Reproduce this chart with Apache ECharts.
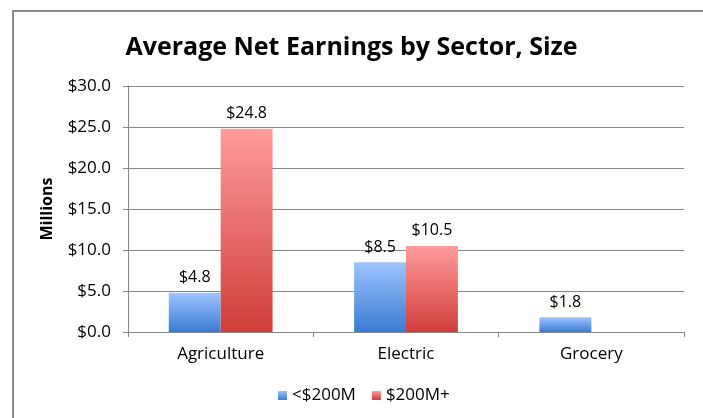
<!DOCTYPE html>
<html>
<head>
<meta charset="utf-8">
<script src="https://cdn.jsdelivr.net/npm/echarts@6/dist/echarts.min.js"></script>
<style>
  html, body { margin: 0; padding: 0; background: #fff; }
  #chart { width: 703px; height: 418px; }
</style>
</head>
<body>
<div id="chart"></div>
<script>
  // 数据
  const categories = ['Agriculture', 'Electric', 'Grocery'];
  const seriesNames = ['<$200M', '$200M+'];
  const smallValues = [4.8, 8.5, 1.8];
  const largeValues = [24.8, 10.5, null];

  const font = '"Open Sans", "Noto Sans", sans-serif';

  const grad = (top, bottom) => new echarts.graphic.LinearGradient(0, 0, 0, 1, [
    { offset: 0, color: top },
    { offset: 1, color: bottom }
  ]);

  const barLabel = {
    show: true, position: 'top', distance: 7,
    fontFamily: font, fontSize: 16, color: '#000',
    formatter: p => '$' + p.value.toFixed(1)
  };

  let option = {
    animation: false,
    backgroundColor: '#fff',
    title: {
      text: 'Average Net Earnings by Sector, Size',
      left: 'center',
      top: 30,
      textStyle: { fontFamily: font, fontSize: 25, fontWeight: 'bold', color: '#000' }
    },
    graphic: [{
      type: 'rect',
      shape: { x: 13, y: 11, width: 760, height: 480 },
      style: { fill: 'none', stroke: '#8c8c8c', lineWidth: 2 },
      z: -1
    }],
    legend: {
      top: 382,
      left: 273,
      itemWidth: 9,
      itemHeight: 9,
      itemGap: 16,
      icon: 'rect',
      textStyle: { fontFamily: font, fontSize: 17, color: '#000' },
      data: seriesNames
    },
    grid: { left: 128, right: 19, top: 86, bottom: 86 },
    xAxis: {
      type: 'category',
      data: categories,
      axisLine: { lineStyle: { color: '#868686' } },
      axisTick: { show: true, length: 5, lineStyle: { color: '#868686' } },
      axisLabel: { fontFamily: font, fontSize: 17, color: '#000', margin: 14 }
    },
    yAxis: {
      type: 'value',
      min: 0,
      max: 30,
      interval: 5,
      name: 'Millions',
      nameLocation: 'middle',
      nameGap: 73,
      nameRotate: 90,
      nameTextStyle: { fontFamily: font, fontSize: 16, fontWeight: 'bold', color: '#000' },
      axisLine: { show: true, lineStyle: { color: '#868686' } },
      axisTick: { show: true, length: 5, lineStyle: { color: '#868686' } },
      axisLabel: {
        fontFamily: font, fontSize: 17, color: '#000', margin: 17,
        formatter: v => '$' + v.toFixed(1)
      },
      splitLine: { lineStyle: { color: '#868686' } }
    },
    series: [{
      name: seriesNames[0],
      type: 'bar',
      barGap: '0%',
      barCategoryGap: '44%',
      data: smallValues,
      itemStyle: { color: grad('#9dc4ff', '#3a7bd2') },
      label: barLabel
    }, {
      name: seriesNames[1],
      type: 'bar',
      data: largeValues,
      itemStyle: { color: grad('#ff9c9c', '#cf3d3a') },
      label: barLabel
    }]
  };

  let myChart = echarts.init(document.getElementById('chart'));
  myChart.setOption(option);
</script>
</body>
</html>
